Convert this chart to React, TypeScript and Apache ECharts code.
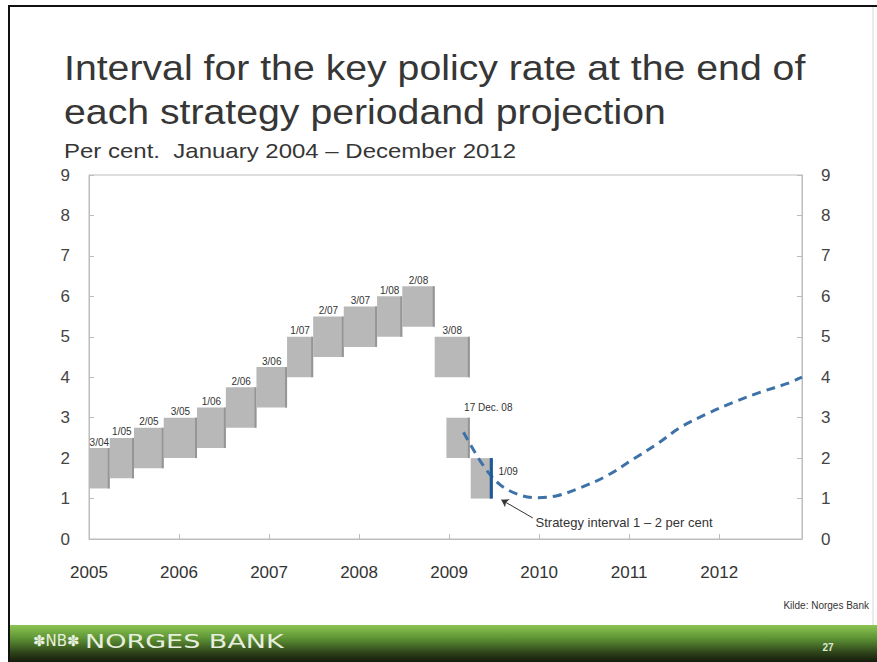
import { useEffect, useRef } from 'react';
import * as echarts from 'echarts';

// strategy periods (monetary policy reports), interval for the key policy rate
const periodLabels = ['3/04', '1/05', '2/05', '3/05', '1/06', '2/06', '3/06', '1/07', '2/07', '3/07', '1/08', '2/08', '3/08', '17 Dec. 08', '1/09'];
const periodStart = [2005.0, 2005.23, 2005.5, 2005.83, 2006.2, 2006.52, 2006.86, 2007.2, 2007.49, 2007.83, 2008.2, 2008.48, 2008.84, 2008.97, 2009.24];
const periodEnd = [2005.23, 2005.5, 2005.83, 2006.2, 2006.52, 2006.86, 2007.2, 2007.49, 2007.83, 2008.2, 2008.48, 2008.84, 2009.23, 2009.23, 2009.47];
const rateLow = [1.25, 1.5, 1.75, 2.0, 2.25, 2.75, 3.25, 4.0, 4.5, 4.75, 5.0, 5.25, 4.0, 2.0, 1.0];
const rateHigh = [2.25, 2.5, 2.75, 3.0, 3.25, 3.75, 4.25, 5.0, 5.5, 5.75, 6.0, 6.25, 5.0, 3.0, 2.0];

// projection from MPR 1/09
const projYears = [2009.16, 2009.42, 2009.64, 2009.97, 2010.2, 2010.46, 2010.75, 2011.05, 2011.31, 2011.57, 2011.86, 2012.16, 2012.46, 2012.75, 2012.92];
const projRate = [2.64, 1.69, 1.23, 1.02, 1.07, 1.27, 1.56, 1.98, 2.35, 2.76, 3.09, 3.38, 3.63, 3.84, 4.0];

// strategy interval 1 - 2 per cent, drawn at the end of the 1/09 period
const strategyYear = 2009.47;
const strategyInterval = [1, 2];

const titleLines = ['Interval for the key policy rate at the end of', 'each strategy periodand projection'];
const subtitle = 'Per cent.  January 2004 \u2013 December 2012';
const annotation = 'Strategy interval 1 \u2013 2 per cent';

const W = 877;
const H = 662;

export default function App() {
  const chartRef = useRef<HTMLDivElement>(null);

  useEffect(() => {
    if (!chartRef.current) return;
    const chart = echarts.init(chartRef.current, undefined, { renderer: 'svg' });

    const boxData = periodLabels.map((name, i) => [periodStart[i], periodEnd[i], rateLow[i], rateHigh[i], i]);

    const axisColor = '#bdbdbd';
    const yAxisBase = {
      type: 'value' as const,
      min: 0,
      max: 9,
      interval: 1,
      axisLine: { show: true, lineStyle: { color: axisColor } },
      axisTick: { show: true, inside: true, length: 5, lineStyle: { color: axisColor } },
      axisLabel: { color: '#444', fontSize: 17, margin: 19, fontFamily: 'Liberation Sans' },
      splitLine: { show: false },
    };

    const headStyle = { fill: '#363636', fontFamily: 'Liberation Sans', textVerticalAlign: 'middle' };

    chart.setOption({
      animation: false,
      backgroundColor: '#fff',
      textStyle: { fontFamily: 'Liberation Sans' },
      grid: { left: 89, right: W - 802, top: 175, bottom: H - 539, show: true, borderColor: axisColor, borderWidth: 1 },
      xAxis: {
        type: 'value',
        min: 2005,
        max: 2012.92,
        interval: 1,
        axisLine: { show: true, lineStyle: { color: axisColor } },
        axisTick: { show: true, inside: true, length: 5, lineStyle: { color: axisColor } },
        axisLabel: {
          color: '#333',
          fontSize: 17,
          margin: 25,
          showMaxLabel: false,
          formatter: (v: number) => (Number.isInteger(v) ? String(v) : ''),
        },
        splitLine: { show: false },
      },
      yAxis: [
        { ...yAxisBase, position: 'left' },
        { ...yAxisBase, position: 'right' },
      ],
      series: [
        {
          type: 'custom',
          data: boxData,
          silent: true,
          renderItem: (params: any, api: any) => {
            const x0 = api.value(0);
            const x1 = api.value(1);
            const lo = api.value(2);
            const hi = api.value(3);
            const idx = api.value(4);
            const p0 = api.coord([x0, hi]);
            const p1 = api.coord([x1, lo]);
            const w = p1[0] - p0[0];
            const h = p1[1] - p0[1];
            const label = periodLabels[idx];
            const font = { fontSize: 10, fill: '#333', fontFamily: 'Liberation Sans' };
            let text: any;
            if (label === '17 Dec. 08') {
              text = { type: 'text', style: { ...font, x: (p0[0] + p1[0]) / 2 + 6, y: p0[1] - 5, text: label, textAlign: 'left', textVerticalAlign: 'bottom' } };
            } else if (label === '1/09') {
              text = { type: 'text', style: { ...font, x: p1[0] + 7, y: p0[1] + 13, text: label, textAlign: 'left', textVerticalAlign: 'middle' } };
            } else {
              text = { type: 'text', style: { ...font, x: (p0[0] + p1[0]) / 2, y: p0[1] - 1, text: label, textAlign: 'center', textVerticalAlign: 'bottom' } };
            }
            return {
              type: 'group',
              children: [
                { type: 'rect', shape: { x: p0[0], y: p0[1], width: w, height: h }, style: { fill: '#b8b8b8' } },
                { type: 'rect', shape: { x: p1[0] - 2, y: p0[1], width: 2, height: h }, style: { fill: '#959595' } },
                text,
              ],
            };
          },
        },
        {
          type: 'line',
          data: projYears.map((x, i) => [x, projRate[i]]),
          smooth: 0.35,
          symbol: 'none',
          silent: true,
          lineStyle: { color: '#3d72a8', width: 3, type: [9, 6] },
          z: 3,
        },
        {
          type: 'line',
          data: strategyInterval.map((v) => [strategyYear, v]),
          symbol: 'none',
          silent: true,
          lineStyle: { color: '#1c5a9c', width: 3 },
          z: 4,
          markLine: {
            silent: true,
            symbol: ['none', 'arrow'],
            symbolSize: 7,
            label: { show: false },
            lineStyle: { color: '#333', width: 1, type: 'solid' },
            data: [[{ coord: [2009.93, 0.52] }, { coord: [2009.58, 0.97] }]],
          },
          markPoint: {
            silent: true,
            symbol: 'circle',
            symbolSize: 0,
            data: [
              {
                coord: [2009.96, 0.42],
                label: { show: true, position: 'right', distance: 0, formatter: annotation, color: '#333', fontSize: 13 },
              },
            ],
          },
        },
      ],
      graphic: [
        // headline and subtitle
        { type: 'text', x: 64, y: 68, scaleX: 1.09, style: { ...headStyle, text: titleLines[0], fontSize: 36 } },
        { type: 'text', x: 64, y: 112, scaleX: 1.09, style: { ...headStyle, text: titleLines[1], fontSize: 36 } },
        { type: 'text', x: 64, y: 151, scaleX: 1.2, style: { ...headStyle, text: subtitle, fontSize: 20 } },
        // slide frame
        { type: 'line', shape: { x1: 8, y1: 6, x2: W, y2: 6 }, style: { stroke: '#111', lineWidth: 2 } },
        { type: 'line', shape: { x1: 9, y1: 6, x2: 9, y2: H }, style: { stroke: '#111', lineWidth: 2 } },
        { type: 'line', shape: { x1: 873, y1: 7, x2: 873, y2: 625 }, style: { stroke: '#d6d6d6', lineWidth: 1 } },
        // footer bar
        {
          type: 'rect',
          shape: { x: 10, y: 625, width: W - 10, height: H - 625 },
          style: {
            fill: new echarts.graphic.LinearGradient(0, 0, 0, 1, [
              { offset: 0, color: '#8cc453' },
              { offset: 0.35, color: '#5f9535' },
              { offset: 0.75, color: '#2d4319' },
              { offset: 1, color: '#141c0c' },
            ]),
          },
        },
        {
          type: 'text',
          x: 33,
          y: 641,
          style: { text: '\u273DNB\u273D', fill: '#e6eedd', fontSize: 15, fontFamily: 'DejaVu Sans', textVerticalAlign: 'middle' },
        },
        {
          type: 'text',
          x: 85,
          y: 641,
          scaleX: 1.35,
          style: { text: 'NORGES BANK', fill: '#e6eedd', fontSize: 20, fontFamily: 'DejaVu Sans', textVerticalAlign: 'middle' },
        },
        {
          type: 'text',
          x: 828,
          y: 647,
          style: { text: '27', fill: '#dfe8d0', fontSize: 10, fontWeight: 'bold', textAlign: 'center', textVerticalAlign: 'middle' },
        },
        {
          type: 'text',
          x: 869,
          y: 605,
          style: { text: 'Kilde: Norges Bank', fill: '#333', fontSize: 10, textAlign: 'right', textVerticalAlign: 'middle', fontFamily: 'Liberation Sans' },
        },
      ],
    });

    return () => {
      chart.dispose();
    };
  }, []);

  return <div ref={chartRef} style={{ position: 'fixed', left: 0, top: 0, width: W, height: H }} />;
}
